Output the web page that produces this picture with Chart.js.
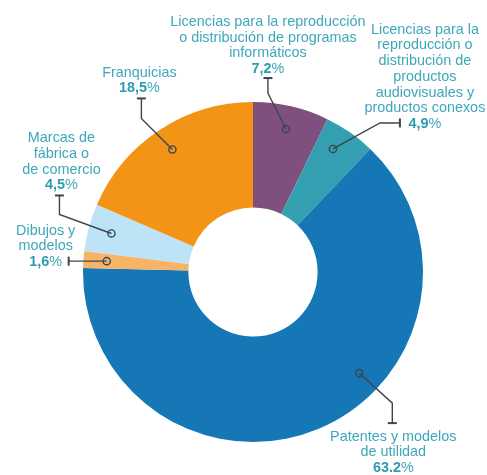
<!DOCTYPE html>
<html lang="es">
<head>
    <meta charset="UTF-8">
    <title>Distribución por tipo de derecho</title>
    <script src="https://cdn.jsdelivr.net/npm/chart.js"></script>
    <style>
        body { margin: 0; background: #fff; }
        #pie { display: block; }
    </style>
</head>
<body>
    <canvas id="pie" width="487" height="475"></canvas>

    <script>
        // data, clockwise from 12 o'clock
        const categories = [
            ['Licencias para la reproducción', 'o distribución de programas', 'informáticos'],
            ['Licencias para la', 'reproducción o', 'distribución de', 'productos', 'audiovisuales y', 'productos conexos'],
            ['Patentes y modelos', 'de utilidad'],
            ['Dibujos y', 'modelos'],
            ['Marcas de', 'fábrica o', 'de comercio'],
            ['Franquicias']
        ];
        const shares = [7.2, 4.9, 63.2, 1.6, 4.5, 18.5];
        const shareLabels = ['7,2', '4,9', '63.2', '1,6', '4,5', '18,5'];

        const sliceColors = ['#7f4f7e', '#339fb1', '#1577b5', '#f7b466', '#bde3f7', '#f39417'];
        const textColor = '#3ea7ba';
        const numColor = '#2f9bb0';
        const leaderColor = '#3b4750';

        // leader layout per slice: where the dot sits in the slice (0..1 of the arc),
        // bends of the line relative to the dot, and where the label's last line sits
        const leaders = [
            { t: 0.5, path: [[-18, -36], [-18, -51]], dx: 0, dy: -9 },
            { t: 0.4, path: [[47, -26], [67, -26]], dx: 25, dy: 1 },
            { t: 0.395, path: [[33, 30], [33, 50]], dx: 1, dy: 45 },
            { t: 0.5, path: [[-38, 0]], dx: -23, dy: 1 },
            { t: 0.5, path: [[-52, -19], [-52, -38]], dx: 2, dy: -10 },
            { t: 0.5, path: [[-31, -31], [-31, -51]], dx: -2, dy: -10 }
        ];

        const fontFamily = '"Liberation Sans", Arial, sans-serif';
        const fontSize = 14.4;
        const lineHeight = 15.7;

        const calloutPlugin = {
            id: 'callouts',
            afterDraw(chart) {
                const ctx = chart.ctx;
                const arcs = chart.getDatasetMeta(0).data;
                arcs.forEach((arc, i) => {
                    const p = arc.getProps(['x', 'y', 'startAngle', 'endAngle', 'outerRadius'], true);
                    const lay = leaders[i];
                    const a = p.startAngle + lay.t * (p.endAngle - p.startAngle);
                    const r = p.outerRadius * 0.863;
                    const mx = p.x + Math.cos(a) * r;
                    const my = p.y + Math.sin(a) * r;

                    // leader line
                    const pts = [[mx, my]].concat(lay.path.map(d => [mx + d[0], my + d[1]]));
                    ctx.save();
                    ctx.strokeStyle = leaderColor;
                    ctx.lineWidth = 1.4;
                    ctx.beginPath();
                    ctx.moveTo(pts[0][0], pts[0][1]);
                    for (let k = 1; k < pts.length; k++) ctx.lineTo(pts[k][0], pts[k][1]);
                    ctx.stroke();

                    // end bar, across the last segment
                    const end = pts[pts.length - 1];
                    const prev = pts[pts.length - 2];
                    const sx = end[0] - prev[0], sy = end[1] - prev[1];
                    const len = Math.hypot(sx, sy);
                    const nx = -sy / len * 4.5, ny = sx / len * 4.5;
                    ctx.lineWidth = 2;
                    ctx.beginPath();
                    ctx.moveTo(end[0] - nx, end[1] - ny);
                    ctx.lineTo(end[0] + nx, end[1] + ny);
                    ctx.stroke();

                    // small ring on the slice
                    ctx.lineWidth = 1.4;
                    ctx.beginPath();
                    ctx.arc(mx, my, 3.6, 0, Math.PI * 2);
                    ctx.stroke();

                    // label text
                    const cx = end[0] + lay.dx;
                    const lastY = end[1] + lay.dy;
                    const lines = categories[i];
                    ctx.textAlign = 'center';
                    ctx.textBaseline = 'middle';
                    ctx.font = fontSize + 'px ' + fontFamily;
                    ctx.fillStyle = textColor;
                    lines.forEach((ln, k) => {
                        ctx.fillText(ln, cx, lastY - (lines.length - k) * lineHeight);
                    });

                    // percentage: bold number + plain %
                    const boldFont = 'bold ' + fontSize + 'px ' + fontFamily;
                    const plainFont = fontSize + 'px ' + fontFamily;
                    ctx.font = boldFont;
                    const wNum = ctx.measureText(shareLabels[i]).width;
                    ctx.font = plainFont;
                    const wPct = ctx.measureText('%').width;
                    let x0 = cx - (wNum + wPct) / 2;
                    ctx.textAlign = 'left';
                    ctx.font = boldFont;
                    ctx.fillStyle = numColor;
                    ctx.fillText(shareLabels[i], x0, lastY);
                    ctx.font = plainFont;
                    ctx.fillStyle = textColor;
                    ctx.fillText('%', x0 + wNum, lastY);
                    ctx.restore();
                });
            }
        };

        new Chart(document.getElementById('pie'), {
            type: 'doughnut',
            data: {
                labels: categories.map(c => c.join(' ')),
                datasets: [{
                    data: shares,
                    backgroundColor: sliceColors,
                    borderWidth: 0
                }]
            },
            options: {
                responsive: false,
                animation: false,
                cutout: '38%',
                rotation: 0,
                layout: {
                    padding: { left: 83, right: 64, top: 102, bottom: 33 }
                },
                plugins: {
                    legend: { display: false },
                    tooltip: { enabled: false }
                }
            },
            plugins: [calloutPlugin]
        });
    </script>
</body>
</html>
